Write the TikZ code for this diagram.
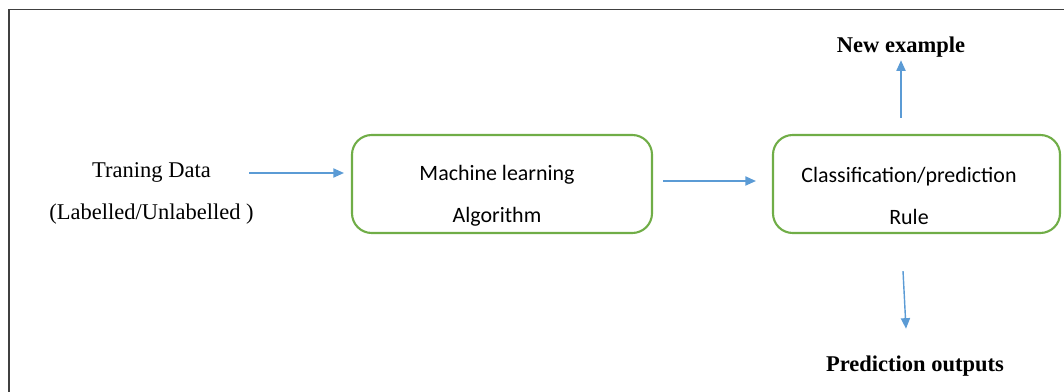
\documentclass[tikz,border=0pt]{standalone}
\usepackage{fontspec}
\setmainfont{Liberation Serif}
\newfontfamily\boxfont{Carlito}
\usetikzlibrary{arrows.meta, calc}

\definecolor{flowblue}{RGB}{91,155,213}
\definecolor{boxgreen}{RGB}{112,173,71}
\definecolor{framegray}{RGB}{64,64,64}

\tikzset{
  stagebox/.style={draw=boxgreen, line width=1.5pt, rounded corners=14pt},
  boxtext/.style={font=\boxfont\fontsize{15.6}{29.8}\selectfont, align=center},
  plaintext/.style={font=\fontsize{16}{30.5}\selectfont, align=center},
  flow/.style={draw=flowblue, line width=1pt, -{Triangle[length=7.5pt, width=6.5pt]}}
}

\begin{document}
\begin{tikzpicture}[x=0.025cm, y=-0.025cm]
  \useasboundingbox (0,0) rectangle (1064,392);
  % Frame (top and left only)
  \draw[framegray, line width=1.1pt] (9,392) -- (9,9.5) -- (1064,9.5);

  % Input
  \node[plaintext] (trainData) at (151.5,193.5) {Traning Data\\(Labelled/Unlabelled )};

  % Boxes
  \node[stagebox, minimum width=300*0.025cm, minimum height=98*0.025cm] (mlAlgo) at (502,184) {};
  \node[boxtext] (mlText) at (497,196) {Machine learning\\Algorithm};
  \node[stagebox, minimum width=287*0.025cm, minimum height=98*0.025cm] (clsRule) at (916.5,184) {};
  \node[boxtext] (clsText) at (909,196) {Classification/prediction\\Rule};

  % Outputs
  \node[plaintext, font=\bfseries\fontsize{16}{19}\selectfont, inner sep=2pt] (newEx) at (901,47) {New example};
  \node[plaintext, font=\bfseries\fontsize{16}{19}\selectfont, inner sep=2pt] (predOut) at (915,366) {Prediction outputs};

  % Connectors
  \coordinate (inStart) at (249,173);
  \draw[flow] (inStart) -- ($(inStart -| mlAlgo.west)+(-7,0)$);
  \coordinate (midStart) at (663,181);
  \draw[flow] (midStart) -- ($(midStart -| clsRule.west)+(-16,0)$);
  \coordinate (upStart) at (901,118);
  \draw[flow] (upStart) -- ($(upStart |- newEx.south)+(0,0)$);
  \draw[flow] ($(clsRule.south)+(-13.5,37)$) -- ($(predOut.north)+(-9,-24)$);
\end{tikzpicture}
\end{document}
